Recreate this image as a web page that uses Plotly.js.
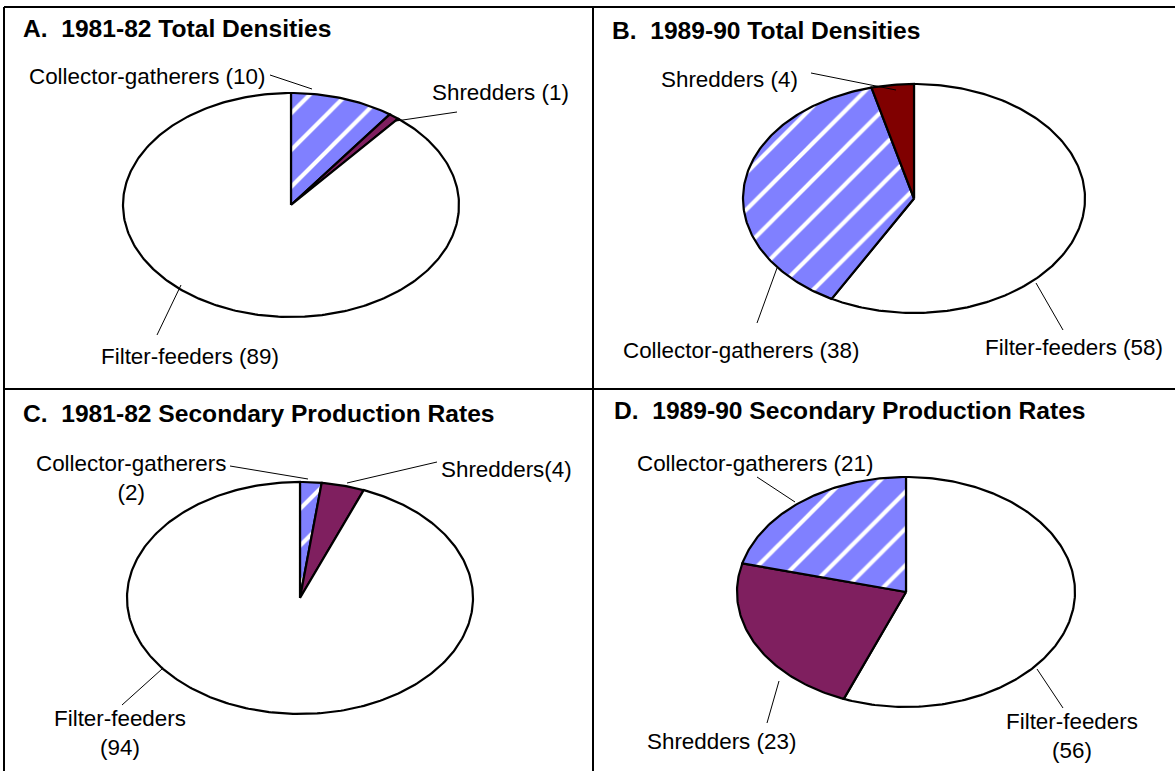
<!DOCTYPE html>
<html>
<head>
<meta charset="utf-8">
<script src="https://cdn.plot.ly/plotly-3.0.1.min.js"></script>
<style>html,body{margin:0;padding:0;background:#fff}#chart{width:1175px;height:771px}</style>
</head>
<body>
<div id="chart"></div>
<script>
// ---- Data (percent of total), listed clockwise from 12 o'clock ----
var titles = [
  "A.  1981-82 Total Densities",
  "B.  1989-90 Total Densities",
  "C.  1981-82 Secondary Production Rates",
  "D.  1989-90 Secondary Production Rates"
];
var catsA = ["Collector-gatherers", "Shredders", "Filter-feeders"];
var valsA = [10, 1, 89];
var catsB = ["Filter-feeders", "Collector-gatherers", "Shredders"];
var valsB = [58, 38, 4];
var catsC = ["Collector-gatherers", "Shredders", "Filter-feeders"];
var valsC = [2, 4, 94];
var catsD = ["Filter-feeders", "Shredders", "Collector-gatherers"];
var valsD = [56, 23, 21];

// label text per panel (same order as cats)
var labelsA = ["Collector-gatherers (10)", "Shredders (1)", "Filter-feeders (89)"];
var labelsB = ["Filter-feeders (58)", "Collector-gatherers (38)", "Shredders (4)"];
var labelsC = ["Collector-gatherers<br>(2)", "Shredders(4)", "Filter-feeders<br>(94)"];
var labelsD = ["Filter-feeders<br>(56)", "Shredders (23)", "Collector-gatherers (21)"];

// ---- Styling / layout (not data) ----
var panels = [
  {cats: catsA, vals: valsA, labels: labelsA, cx: 291, cy: 205, rx: 168, ry: 112, tx: 21, ty: 28,
   shredColor: "#7F1F5F",
   lab: [[147, 76], [500, 92], [190, 356]],
   lead: [[[270, 75], [312, 89]], [[457, 112], [396, 121]], [[157, 335], [181, 285]]]},
  {cats: catsB, vals: valsB, labels: labelsB, cx: 914, cy: 198.5, rx: 171, ry: 114.5, tx: 610, ty: 30,
   shredColor: "#800000",
   lab: [[1074, 347], [741, 350], [729, 79]],
   lead: [[[1063, 330], [1036, 283]], [[757, 323], [777, 268]], [[811, 73], [896, 90]]]},
  {cats: catsC, vals: valsC, labels: labelsC, cx: 300, cy: 598, rx: 173, ry: 116, tx: 21, ty: 413,
   shredColor: "#7F1F5F",
   lab: [[131, 478], [506, 469], [120, 733]],
   lead: [[[230, 466], [308, 479]], [[437, 462], [347, 483]], [[122, 705], [162, 669]]]},
  {cats: catsD, vals: valsD, labels: labelsD, cx: 906, cy: 592, rx: 169, ry: 115, tx: 612, ty: 410,
   shredColor: "#7F1F5F",
   lab: [[1072, 736], [721, 741], [755, 463]],
   lead: [[[1063, 708], [1037, 669]], [[767, 723], [779, 681]], [[757, 477], [795, 502]]]}
];

var BLUE = "#8080FF";
var traces = [];
var annotations = [];
var shapes = [];
var FONT = "Liberation Sans, Arial, Helvetica, sans-serif";

panels.forEach(function (p) {
  var total = p.vals.reduce(function (a, b) { return a + b; }, 0);
  var cum = 0;
  p.cats.forEach(function (cat, i) {
    var a0 = cum / total * 2 * Math.PI;
    cum += p.vals[i];
    var a1 = cum / total * 2 * Math.PI;
    var n = Math.max(4, Math.ceil((a1 - a0) / (Math.PI / 180)));
    var xs = [p.cx], ys = [p.cy];
    for (var k = 0; k <= n; k++) {
      var a = a0 + (a1 - a0) * k / n;
      xs.push(p.cx + p.rx * Math.sin(a));
      ys.push(p.cy - p.ry * Math.cos(a));
    }
    xs.push(p.cx); ys.push(p.cy);
    var tr = {
      type: "scatter", mode: "lines", x: xs, y: ys, fill: "toself",
      line: {color: "#000", width: 2.2}, hoverinfo: "skip", showlegend: false, name: cat
    };
    if (cat === "Filter-feeders") {
      tr.fillcolor = "#FFFFFF";
    } else if (cat === "Shredders") {
      tr.fillcolor = p.shredColor;
    } else {
      tr.fillcolor = BLUE;
      tr.fillpattern = {shape: "/", bgcolor: BLUE, fgcolor: "#FFFFFF", size: 26, solidity: 0.16};
    }
    traces.push(tr);

    annotations.push({
      x: p.lab[i][0], y: p.lab[i][1], xref: "x", yref: "y", showarrow: false,
      text: p.labels[i], font: {family: FONT, size: 22.4, color: "#000"},
      xanchor: "center", yanchor: "middle", align: "center"
    });
    shapes.push({
      type: "line", xref: "x", yref: "y",
      x0: p.lead[i][0][0], y0: p.lead[i][0][1], x1: p.lead[i][1][0], y1: p.lead[i][1][1],
      line: {color: "#000", width: 1}
    });
  });
});

titles.forEach(function (t, i) {
  annotations.push({
    x: panels[i].tx, y: panels[i].ty, xref: "x", yref: "y", showarrow: false,
    text: "<b>" + t + "</b>", font: {family: FONT, size: 24.6, color: "#000"},
    xanchor: "left", yanchor: "middle"
  });
});

// frame lines
shapes.push({type: "line", xref: "x", yref: "y", x0: 4, y0: 7, x1: 1175, y1: 7, line: {color: "#000", width: 2}});
shapes.push({type: "line", xref: "x", yref: "y", x0: 4, y0: 7, x1: 4, y1: 771, line: {color: "#000", width: 2}});
shapes.push({type: "line", xref: "x", yref: "y", x0: 593, y0: 7, x1: 593, y1: 771, line: {color: "#000", width: 2}});
shapes.push({type: "line", xref: "x", yref: "y", x0: 4, y0: 389, x1: 1175, y1: 389, line: {color: "#000", width: 2}});

var layout = {
  width: 1175, height: 771,
  margin: {l: 0, r: 0, t: 0, b: 0},
  paper_bgcolor: "#fff", plot_bgcolor: "#fff",
  xaxis: {range: [0, 1175], visible: false, fixedrange: true},
  yaxis: {range: [771, 0], visible: false, fixedrange: true},
  showlegend: false,
  annotations: annotations,
  shapes: shapes
};

Plotly.newPlot("chart", traces, layout, {displayModeBar: false, staticPlot: true});
</script>
</body>
</html>
